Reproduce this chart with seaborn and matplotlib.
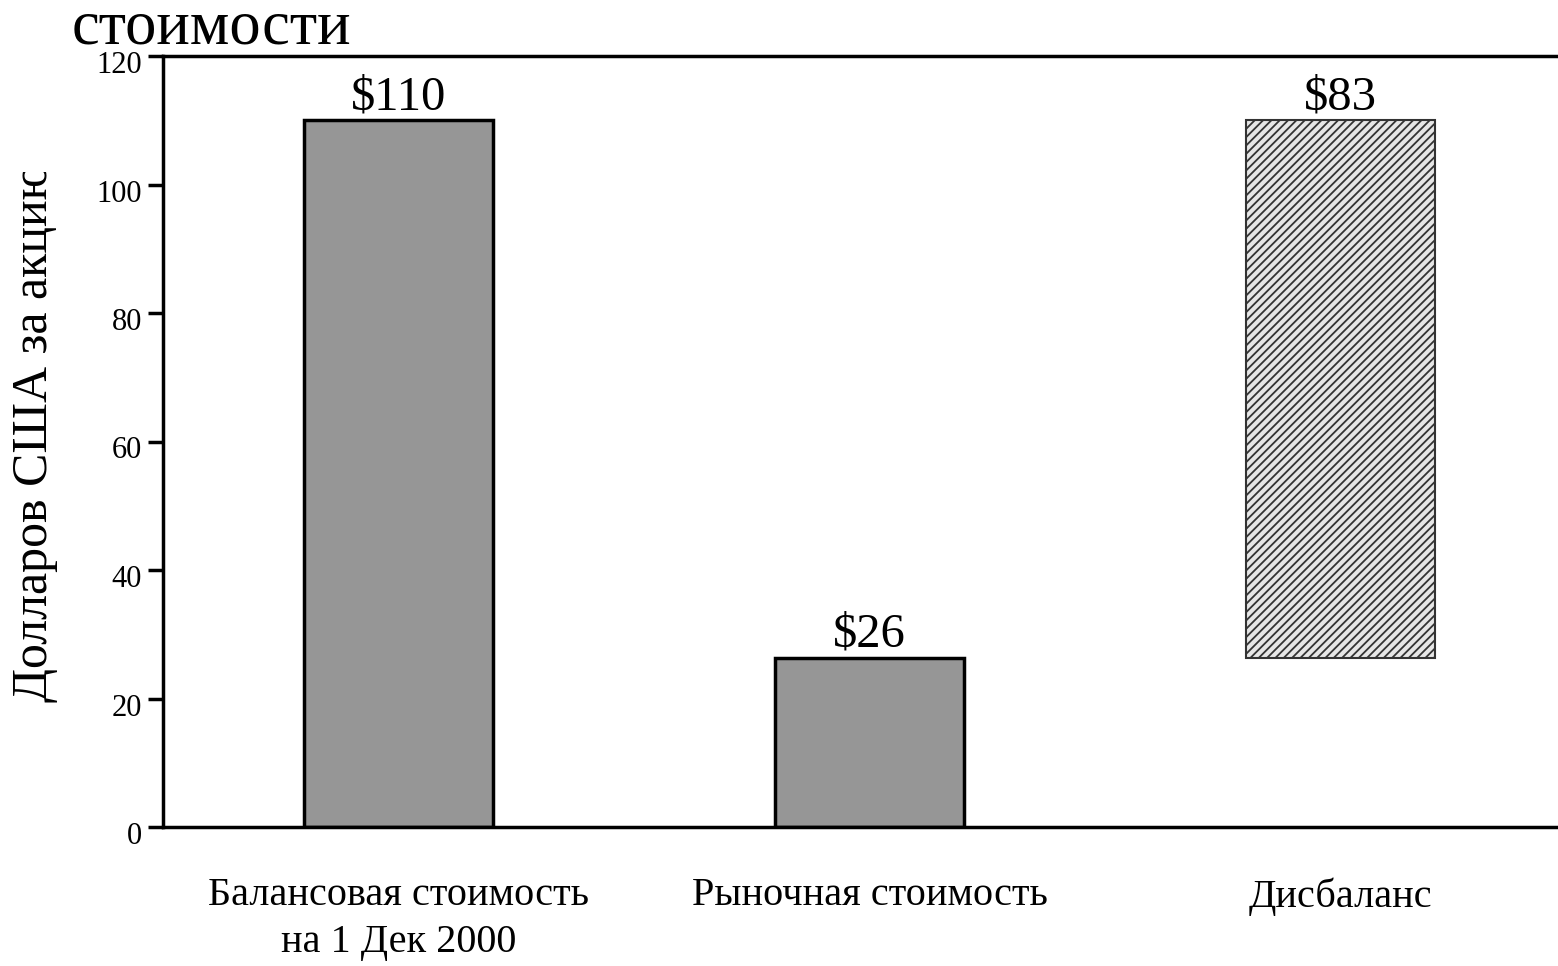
import matplotlib
matplotlib.use("Agg")
import matplotlib.pyplot as plt
import matplotlib.transforms as mtransforms
import seaborn as sns
import pandas as pd
from matplotlib.transforms import Bbox, TransformedBbox

# ---- data ----
categories = ["Балансовая стоимость\nна 1 Дек 2000", "Рыночная стоимость", "Дисбаланс"]
book_value = 110.0
market_value = 26.3
heights = [book_value, market_value, book_value - market_value]
bottoms = [0.0, 0.0, market_value]
value_labels = ["$110", "$26", "$83"]
y_ticks = [0, 20, 40, 60, 80, 100, 120]
y_label = "Долларов США за акцию"
title_fragment = "стоимости"

sns.set_style("white")
plt.rcParams["font.family"] = ["Liberation Serif", "DejaVu Serif"]
plt.rcParams["hatch.linewidth"] = 1.3
plt.rcParams["hatch.color"] = "#333333"
plt.rcParams["text.color"] = "black"
plt.rcParams["xtick.color"] = "black"
plt.rcParams["ytick.color"] = "black"

W, H = 1558, 966
fig = plt.figure(figsize=(W / 100, H / 100), dpi=100)
ax = fig.add_axes([163 / W, 139 / H, (1576 - 163) / W, 771 / H])

df = pd.DataFrame({"cat": categories, "h": heights})
sns.barplot(data=df, x="cat", y="h", order=categories, color="#969696",
            saturation=1, width=0.4, edgecolor="black", linewidth=2.5, ax=ax)

patches = ax.patches
# floating imbalance bar
p = patches[2]
p.set_y(bottoms[2])
p.set_height(heights[2])
p.set_facecolor("#e6e6e6")
p.set_hatch("////")
p.set_edgecolor("#333333")
p.set_linewidth(1.5)

for i, (h, b, lab) in enumerate(zip(heights, bottoms, value_labels)):
    ax.annotate(lab, xy=(i, h + b), xytext=(0, 8), textcoords="offset points",
                ha="center", va="baseline", fontsize=35, color="black")

ax.set_xlim(-0.5, 2.5)
ax.set_ylim(0, 120)
ax.set_yticks(y_ticks)
ax.set_yticklabels([str(t) for t in y_ticks], fontsize=22)
ax.set_xticks([0, 1, 2])
ax.set_xticklabels(categories, fontsize=29, linespacing=1.35)
ax.set_xticks([-0.5, 0.5, 1.5, 2.5], minor=True)
ax.tick_params(axis="x", which="major", length=0, pad=36)
ax.tick_params(axis="x", which="minor", length=11, width=2.5, direction="out")
ax.tick_params(axis="y", which="major", length=11, width=2.5, direction="out", pad=4, left=True)
ax.set_xlabel("")
ax.set_ylabel("")

# y tick labels sit slightly below their ticks in the reference
shift = mtransforms.ScaledTranslation(0, -6 / 100, fig.dpi_scale_trans)
for lab in ax.get_yticklabels():
    lab.set_transform(lab.get_transform() + shift)

for s in ["left", "bottom", "top", "right"]:
    ax.spines[s].set_visible(True)
    ax.spines[s].set_color("black")
    ax.spines[s].set_linewidth(2.5)

t = fig.text(35 / W, (H - 702) / H, y_label, rotation=90, ha="center", va="bottom", fontsize=36)
t.set_clip_box(TransformedBbox(Bbox([[0, 0], [1, (H - 172) / H]]), fig.transFigure))
t.set_clip_on(True)

fig.text(72 / W, (H - 43) / H, title_fragment, ha="left", va="baseline", fontsize=45)

fig.savefig("out.png", dpi=100)
